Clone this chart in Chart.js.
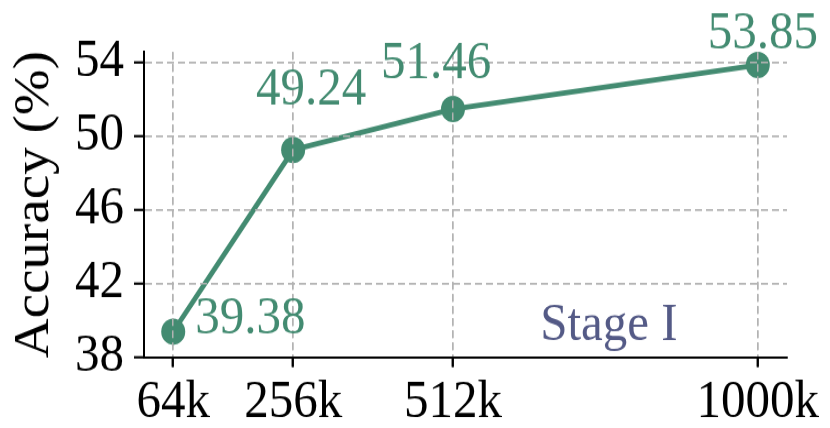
<!DOCTYPE html>
<html>
<head>
<meta charset="utf-8">
<script src="https://cdn.jsdelivr.net/npm/chart.js@4/dist/chart.umd.min.js"></script>
<style>
  html, body { margin: 0; padding: 0; background: #ffffff; }
  body { width: 830px; height: 428px; }
  #wrap { width: 830px; height: 389px; position: relative; transform: scaleY(1.1003); transform-origin: 0 0; }
</style>
</head>
<body>
<div id="wrap"><canvas id="c" width="830" height="389"></canvas></div>
<script>
// ---- data ----
const dataSizes = [64, 256, 512, 1000];          // thousands of samples
const accuracy = [39.38, 49.24, 51.46, 53.85];    // %
const xTickValues = [64, 256, 512, 1000];
const yTickValues = [38, 42, 46, 50, 54];
const yTitle = 'Accuracy (%)';
const stageLabel = 'Stage I';

// ---- style ----
const GREEN = '#438b71';
const STAGE = '#545a86';
const GRID = '#b3b3b3';
const FONT = '"Liberation Serif", "Times New Roman", serif';
// label offsets in px (dx, dy from point, alignment)
const labelOffsets = [
  { dx: 22, dy: 2, align: 'left' },
  { dx: 18, dy: -41, align: 'center' },
  { dx: -17, dy: -28, align: 'center' },
  { dx: 5, dy: -15.5, align: 'center' }
];

const points = dataSizes.map((x, i) => ({ x: x, y: accuracy[i] }));

const gridOnTop = {
  id: 'gridOnTop',
  afterDatasetsDraw(chart) {
    ['x', 'y'].forEach(k => chart.scales[k].drawGrid(chart.chartArea));
    ['x', 'y'].forEach(k => chart.scales[k].drawBorder());
  }
};

const labelsPlugin = {
  id: 'valueLabels',
  afterDraw(chart) {
    const ctx = chart.ctx;
    const xs = chart.scales.x, ys = chart.scales.y;
    ctx.save();
    ctx.font = '49px ' + FONT;
    ctx.fillStyle = GREEN;
    ctx.textBaseline = 'alphabetic';
    accuracy.forEach((v, i) => {
      const px = xs.getPixelForValue(dataSizes[i]);
      const py = ys.getPixelForValue(v);
      const o = labelOffsets[i];
      ctx.textAlign = o.align;
      ctx.fillText(v.toFixed(2), px + o.dx, py + o.dy);
    });
    // Stage label
    ctx.fillStyle = STAGE;
    ctx.textAlign = 'center';
    ctx.font = '49px ' + FONT;
    const area = chart.chartArea;
    ctx.fillText(stageLabel, area.left + (area.right - area.left) * 0.723, area.bottom - 15.5);
    ctx.restore();
  }
};

new Chart(document.getElementById('c'), {
  type: 'line',
  data: {
    datasets: [{
      data: points,
      borderColor: GREEN,
      backgroundColor: GREEN,
      borderWidth: 4.8,
      pointRadius: 12,
      pointHoverRadius: 12,
      pointBorderWidth: 0,
      pointBackgroundColor: GREEN,
      tension: 0,
      fill: false,
      clip: false
    }]
  },
  options: {
    responsive: false,
    animation: false,
    devicePixelRatio: 1,
    layout: { padding: { left: 0, right: 43, top: 47.3, bottom: 0 } },
    plugins: { legend: { display: false }, tooltip: { enabled: false } },
    scales: {
      x: {
        type: 'linear',
        min: 17.2,
        max: 1046.8,
        afterBuildTicks(scale) { scale.ticks = xTickValues.map(v => ({ value: v })); },
        afterFit(scale) { scale.height = 64.5; },
        ticks: {
          callback: v => v + 'k',
          color: '#000',
          font: { family: FONT, size: 49 },
          padding: 3,
          maxRotation: 0,
          autoSkip: false
        },
        grid: {
          color: GRID,
          lineWidth: 1.5,
          tickLength: 9,
          tickColor: '#000',
          tickWidth: 2,
          tickBorderDash: []
        },
        border: { display: true, color: '#000', width: 2, dash: [7, 4] }
      },
      y: {
        type: 'linear',
        min: 38,
        max: 54.55,
        afterBuildTicks(scale) { scale.ticks = yTickValues.map(v => ({ value: v })); },
        afterFit(scale) { scale.width = 144; },
        ticks: {
          color: '#000',
          font: { family: FONT, size: 49 },
          padding: 10,
          autoSkip: false
        },
        grid: {
          color: GRID,
          lineWidth: 1.4,
          tickLength: 10,
          tickColor: '#000',
          tickWidth: 1.8,
          tickBorderDash: []
        },
        border: { display: true, color: '#000', width: 2, dash: [7, 4] },
        title: {
          display: true,
          text: yTitle,
          color: '#000',
          font: { family: FONT, size: 50 },
          padding: { top: 5, bottom: 0 }
        }
      }
    }
  },
  plugins: [gridOnTop, labelsPlugin]
});
</script>
</body>
</html>
